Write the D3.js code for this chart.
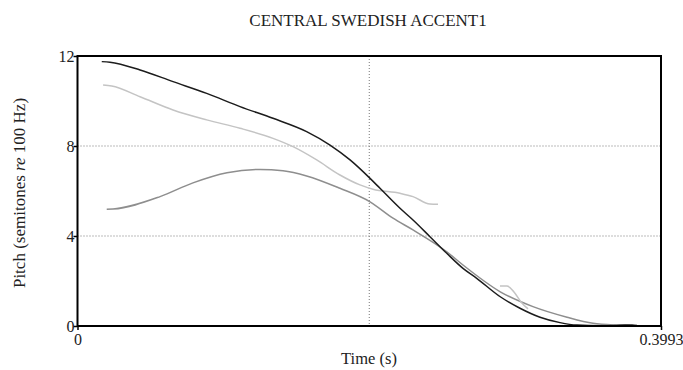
<!DOCTYPE html>
<html>
<head>
<meta charset="utf-8">
<script src="https://cdn.jsdelivr.net/npm/d3@7/dist/d3.min.js"></script>
<style>
  body { margin: 0; background: #fff; }
  svg text { font-family: "Liberation Serif", "DejaVu Serif", serif; fill: #222; }
</style>
</head>
<body>
<svg id="chart" width="683" height="370"></svg>
<script>
// Pitch contours (time in s, pitch in semitones re 100 Hz)
const blackTime  = [0.0166, 0.0222, 0.0428, 0.0654, 0.0884, 0.1112, 0.1338, 0.1568, 0.1728, 0.1865, 0.2002, 0.2070, 0.2207, 0.2296, 0.2412, 0.2527, 0.2638, 0.2732, 0.2893, 0.3028, 0.3165, 0.3302, 0.3418, 0.3576, 0.3678, 0.3747, 0.3795, 0.3829];
const blackPitch = [11.75, 11.72, 11.38, 10.86, 10.34, 9.75, 9.23, 8.64, 8.04, 7.38, 6.56, 6.12, 5.23, 4.71, 3.97, 3.23, 2.56, 2.12, 1.30, 0.79, 0.39, 0.15, 0.04, 0.01, 0.02, 0.05, 0.04, 0.02];

const lightTime  = [0.0175, 0.0234, 0.0428, 0.0654, 0.0884, 0.1112, 0.1338, 0.1475, 0.1637, 0.1796, 0.1933, 0.2022, 0.2207, 0.2296, 0.2412, 0.2467];
const lightPitch = [10.71, 10.67, 10.19, 9.60, 9.16, 8.79, 8.34, 7.97, 7.38, 6.71, 6.27, 6.08, 5.90, 5.75, 5.42, 5.41];

const lightTime2  = [0.2891, 0.2939, 0.2987, 0.3035, 0.3083];
const lightPitch2 = [1.78, 1.78, 1.51, 1.07, 0.76];

const greyTime  = [0.0200, 0.0243, 0.0565, 0.0790, 0.1023, 0.1249, 0.1406, 0.1568, 0.1796, 0.2002, 0.2159, 0.2296, 0.2527, 0.2638, 0.2893, 0.3117, 0.3350, 0.3528, 0.3692, 0.3781];
const greyPitch = [5.19, 5.20, 5.75, 6.36, 6.81, 6.96, 6.90, 6.67, 6.12, 5.52, 4.79, 4.27, 3.30, 2.71, 1.52, 0.86, 0.39, 0.12, 0.04, 0.02];

const xTicks = [0, 0.3993];
const yTicks = [0, 4, 8, 12];
const yGrid = [4, 8];
const xGrid = [0.19965];

const svg = d3.select("#chart");
const m = { left: 77.5, right: 661, top: 56, bottom: 326 };

const x = d3.scaleLinear().domain([0, 0.3993]).range([m.left, m.right]);
const y = d3.scaleLinear().domain([0, 12]).range([m.bottom, m.top]);

// dotted grid
svg.selectAll(".hgrid").data(yGrid).enter().append("line")
  .attr("x1", m.left).attr("x2", m.right)
  .attr("y1", d => y(d)).attr("y2", d => y(d))
  .attr("stroke", "#777").attr("stroke-width", 1).attr("stroke-dasharray", "1,2");
svg.selectAll(".vgrid").data(xGrid).enter().append("line")
  .attr("x1", d => x(d)).attr("x2", d => x(d))
  .attr("y1", m.top).attr("y2", m.bottom)
  .attr("stroke", "#777").attr("stroke-width", 1).attr("stroke-dasharray", "1,2");

const line = d3.line().x(d => x(d[0])).y(d => y(d[1])).curve(d3.curveMonotoneX);
const zip = (a, b) => a.map((v, i) => [v, b[i]]);

const series = [
  { pts: zip(greyTime, greyPitch), color: "#8e8e8e" },
  { pts: zip(lightTime, lightPitch), color: "#c4c4c4" },
  { pts: zip(lightTime2, lightPitch2), color: "#c4c4c4" },
  { pts: zip(blackTime, blackPitch), color: "#1c1c1c" }
];
svg.selectAll(".contour").data(series).enter().append("path")
  .attr("d", d => line(d.pts))
  .attr("fill", "none").attr("stroke", d => d.color).attr("stroke-width", 1.5);

// frame
svg.append("rect")
  .attr("x", m.left).attr("y", m.top)
  .attr("width", m.right - m.left).attr("height", m.bottom - m.top)
  .attr("fill", "none").attr("stroke", "#000").attr("stroke-width", 2);

// axes
const yAxis = d3.axisLeft(y).tickValues(yTicks).tickSize(4).tickFormat(d3.format("d"));
const gy = svg.append("g").attr("transform", `translate(${m.left},0)`).call(yAxis);
gy.select(".domain").remove();
gy.selectAll("line").attr("stroke", "#000").attr("stroke-width", 1.5);
gy.selectAll("text").attr("font-size", 16).attr("x", -3).attr("dy", "0.35em");

const xAxis = d3.axisBottom(x).tickValues(xTicks).tickSize(4).tickFormat(d => d === 0 ? "0" : "0.3993");
const gx = svg.append("g").attr("transform", `translate(0,${m.bottom})`).call(xAxis);
gx.select(".domain").remove();
gx.selectAll("line").attr("stroke", "#000").attr("stroke-width", 1.5);
gx.selectAll("text").attr("font-size", 16).attr("y", 8).attr("dy", "0.71em");

// title and labels
svg.append("text").attr("x", 368).attr("y", 26).attr("text-anchor", "middle")
  .attr("font-size", 17).text("CENTRAL SWEDISH ACCENT1");
svg.append("text").attr("x", 369).attr("y", 364).attr("text-anchor", "middle")
  .attr("font-size", 16.5).text("Time (s)");
const yl = svg.append("text").attr("transform", "translate(25,193) rotate(-90)")
  .attr("text-anchor", "middle").attr("font-size", 17);
yl.append("tspan").text("Pitch (semitones ");
yl.append("tspan").attr("font-style", "italic").text("re");
yl.append("tspan").text(" 100 Hz)");
</script>
</body>
</html>
